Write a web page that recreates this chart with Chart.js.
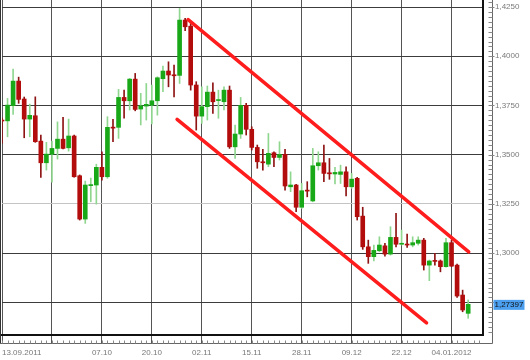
<!DOCTYPE html>
<html><head><meta charset="utf-8">
<style>html,body{margin:0;padding:0;background:#fff}#wrap{width:530px;height:360px;position:relative}</style>
<script src="https://cdn.jsdelivr.net/npm/chart.js@4.4.1/dist/chart.umd.min.js"></script>
</head><body><div id="wrap"><canvas id="c" width="530" height="360"></canvas></div>
<script>
// Daily EUR/USD candles, 13.09.2011 (index 0) ... 09.01.2012 (index 84)
const opens  = [1.3676,1.3672,1.3749,1.3874,1.3783,1.3681,1.3698,1.3569,1.3459,1.3502,
                1.3532,1.3579,1.3535,1.3595,1.3393,1.3173,1.3343,1.3346,1.3436,1.3388,
                1.3640,1.3639,1.3791,1.3774,1.3884,1.3732,1.3747,1.3751,1.3774,1.3886,
                1.3925,1.3905,1.3903,1.4184,1.4153,1.3854,1.3696,1.3744,1.3818,1.3775,
                1.3769,1.3828,1.3540,1.3605,1.3751,1.3629,1.3537,1.3463,1.3452,1.3510,
                1.3486,1.3502,1.3337,1.3346,1.3233,1.3318,1.3265,1.3444,1.3459,1.3407,
                1.3402,1.3400,1.3413,1.3337,1.3380,1.3188,1.3032,1.2982,1.3012,1.3037,
                1.2995,1.3080,1.3045,1.3046,1.3041,1.3050,1.3066,1.2939,1.2961,1.2960,
                1.2931,1.3053,1.2939,1.2787,1.2694];
const highs  = [1.3686,1.3786,1.3935,1.3894,1.3793,1.3757,1.3794,1.3600,1.3563,1.3569,
                1.3667,1.3690,1.3681,1.3600,1.3397,1.3366,1.3381,1.3452,1.3515,1.3693,
                1.3680,1.3832,1.3828,1.3888,1.3913,1.3812,1.3862,1.3854,1.3896,1.3950,
                1.3972,1.3955,1.4243,1.4193,1.4167,1.3871,1.3845,1.3849,1.3865,1.3828,
                1.3845,1.3849,1.3651,1.3791,1.3761,1.3642,1.3549,1.3527,1.3608,1.3515,
                1.3566,1.3527,1.3413,1.3349,1.3354,1.3363,1.3532,1.3515,1.3549,1.3481,
                1.3436,1.3447,1.3439,1.3405,1.3385,1.3233,1.3066,1.3041,1.3083,1.3050,
                1.3134,1.3202,1.3117,1.3097,1.3083,1.3083,1.3075,1.2965,1.2999,1.2965,
                1.3075,1.3066,1.2944,1.2812,1.2762];
const lows   = [1.3559,1.3591,1.3705,1.3761,1.3586,1.3591,1.3563,1.3385,1.3422,1.3360,
                1.3478,1.3530,1.3518,1.3386,1.3168,1.3151,1.3261,1.3249,1.3371,1.3380,
                1.3566,1.3583,1.3685,1.3727,1.3723,1.3651,1.3676,1.3656,1.3701,1.3820,
                1.3845,1.3794,1.3862,1.4130,1.3828,1.3625,1.3659,1.3676,1.3710,1.3685,
                1.3727,1.3532,1.3481,1.3583,1.3600,1.3524,1.3431,1.3422,1.3439,1.3439,
                1.3473,1.3320,1.3312,1.3210,1.3227,1.3286,1.3261,1.3422,1.3363,1.3375,
                1.3351,1.3354,1.3290,1.3329,1.3168,1.3019,1.2948,1.2960,1.3007,1.2985,
                1.2990,1.3032,1.3041,1.3029,1.3032,1.3041,1.2914,1.2860,1.2939,1.2905,
                1.2928,1.2931,1.2775,1.2702,1.2669];
const closes = [1.3671,1.3752,1.3874,1.3781,1.3681,1.3700,1.3566,1.3459,1.3503,1.3532,
                1.3579,1.3532,1.3595,1.3388,1.3173,1.3346,1.3346,1.3436,1.3388,1.3639,
                1.3635,1.3791,1.3774,1.3884,1.3730,1.3749,1.3756,1.3774,1.3891,1.3925,
                1.3905,1.3901,1.4184,1.4150,1.3854,1.3696,1.3744,1.3818,1.3769,1.3778,
                1.3828,1.3540,1.3605,1.3751,1.3629,1.3537,1.3464,1.3459,1.3507,1.3486,
                1.3501,1.3341,1.3346,1.3233,1.3317,1.3315,1.3444,1.3459,1.3405,1.3403,
                1.3410,1.3413,1.3337,1.3376,1.3185,1.3032,1.2982,1.3014,1.3041,1.2995,
                1.3080,1.3045,1.3048,1.3041,1.3053,1.3066,1.2939,1.2960,1.2958,1.2931,
                1.3053,1.2934,1.2782,1.2711,1.27397];

// Hand-drawn trend channel (day index, price)
const upperChannel = [{x:33.53, y:1.4186}, {x:84.10, y:1.3006}];
const lowerChannel = [{x:31.55, y:1.3680}, {x:76.50, y:1.2646}];

// Axis ticks
const xTickPos    = [0, 9, 18, 27, 36, 45, 54, 63, 72, 81];
const xTickLabels = ['13.09.2011', '', '07.10', '20.10', '02.11', '15.11', '28.11', '09.12', '22.12', '04.01.2012'];
const yTickValues = [1.275, 1.300, 1.325, 1.350, 1.375, 1.400, 1.425];
const yTickLabels = ['', '1,3000', '1,3250', '1,3500', '1,3750', '1,4000', '1,4250'];

const X_MIN = 0, X_MAX = 86.67, Y_MIN = 1.2584, Y_MAX = 1.4286;
const GREEN = '#18a818', RED = '#b30c0c', WICK_G = '#8fd68f', WICK_R = '#8e1414';

const isUp = closes.map((c, i) => c >= opens[i]);

const decor = {
  id: 'decor',
  afterDraw(chart) {
    const {ctx, chartArea: a, scales: {x, y}} = chart;
    const axX = Math.round(a.right) + 9.5, axY = Math.round(a.bottom) + 8.5;
    ctx.save();
    ctx.lineWidth = 1;
    ctx.strokeStyle = '#333';
    ctx.beginPath(); ctx.moveTo(0.5, a.top); ctx.lineTo(0.5, axY); ctx.stroke();
    ctx.strokeStyle = '#666';
    ctx.beginPath();
    ctx.moveTo(axX, 0); ctx.lineTo(axX, axY);
    ctx.moveTo(0, axY); ctx.lineTo(axX, axY);
    ctx.stroke();
    ctx.strokeStyle = '#888';
    ctx.beginPath();
    for (let k = Math.ceil(Y_MIN / 0.0025); k * 0.0025 <= Y_MAX; k++) {
      const py = Math.round(y.getPixelForValue(k * 0.0025)) + 0.5;
      const major = k % 10 === 0;
      ctx.moveTo(axX - 4, py); ctx.lineTo(axX + (major ? 2 : 0), py);
    }
    for (let i = 0; i <= X_MAX; i++) {
      const px = Math.round(x.getPixelForValue(i)) + 0.5;
      ctx.moveTo(px, axY - 3); ctx.lineTo(px, axY);
    }
    ctx.stroke();
    // last price box
    const last = closes[closes.length - 1];
    const py = y.getPixelForValue(last);
    ctx.fillStyle = '#4b9fee';
    ctx.fillRect(axX + 1, py - 4.5, 31, 10);
    ctx.fillStyle = '#111';
    ctx.font = '8px "Liberation Sans", Arial, sans-serif';
    ctx.textBaseline = 'middle';
    ctx.textAlign = 'left';
    ctx.fillText(last.toFixed(5).replace('.', ','), axX + 2, py + 0.5);
    ctx.restore();
  }
};

Chart.defaults.font.family = '"Liberation Sans", Arial, sans-serif';
Chart.defaults.font.size = 8;

new Chart(document.getElementById('c'), {
  type: 'bar',
  data: {
    datasets: [
      {
        type: 'line', label: 'Upper channel', data: upperChannel, order: -2,
        borderColor: '#ff1c1c', borderWidth: 3.5, borderCapStyle: 'round',
        pointRadius: 0, fill: false, tension: 0
      },
      {
        type: 'line', label: 'Lower channel', data: lowerChannel, order: -1,
        borderColor: '#ff1c1c', borderWidth: 3.5, borderCapStyle: 'round',
        pointRadius: 0, fill: false, tension: 0
      },
      {
        label: 'Body', order: 0, grouped: false,
        data: opens.map((o, i) => ({x: i, y: [o, closes[i]]})),
        backgroundColor: isUp.map(u => u ? GREEN : RED),
        barThickness: 4, minBarLength: 1, borderWidth: 0
      },
      {
        label: 'Wick', order: 1, grouped: false,
        data: lows.map((l, i) => ({x: i, y: [l, highs[i]]})),
        backgroundColor: isUp.map(u => u ? WICK_G : WICK_R),
        barThickness: 1, borderWidth: 0
      }
    ]
  },
  options: {
    responsive: false,
    animation: false,
    devicePixelRatio: 1,
    layout: {padding: {left: 2, right: 0, top: 0, bottom: 0}},
    plugins: {legend: {display: false}, tooltip: {enabled: false}},
    scales: {
      x: {
        type: 'linear', min: X_MIN, max: X_MAX, offset: false,
        afterBuildTicks(s) { s.ticks = xTickPos.concat([X_MAX]).map(v => ({value: v})); },
        afterFit(s) { s.height = 25; s.paddingLeft = 0; s.paddingRight = 0; },
        ticks: {
          autoSkip: false, maxRotation: 0, minRotation: 0, align: 'inner', padding: 5,
          color: '#777', font: {size: 8},
          callback: (v, i) => (i < xTickLabels.length ? xTickLabels[i] : '')
        },
        grid: {
          offset: false, drawTicks: true, tickLength: 8,
          color: c => (c.tick && c.tick.value === X_MAX ? 'rgba(0,0,0,0)' : '#555'),
          tickColor: c => (c.tick && c.tick.value === X_MAX ? 'rgba(0,0,0,0)' : '#555')
        },
        border: {display: true, color: '#111', width: 2}
      },
      y: {
        position: 'right', min: Y_MIN, max: Y_MAX,
        afterBuildTicks(s) { s.ticks = yTickValues.map(v => ({value: v})); },
        afterFit(s) { s.width = 47; s.paddingTop = 0; s.paddingBottom = 0; },
        ticks: {
          padding: 12, color: '#7a7a7a', font: {size: 8},
          callback: (v, i) => yTickLabels[i]
        },
        grid: {
          drawTicks: false,
          color: c => (c.tick && Math.abs(c.tick.value - 1.325) < 1e-6 ? '#c4c4c4' : '#3c3c3c')
        },
        border: {display: true, color: '#111', width: 2}
      }
    }
  },
  plugins: [decor]
});
</script>
</body></html>
